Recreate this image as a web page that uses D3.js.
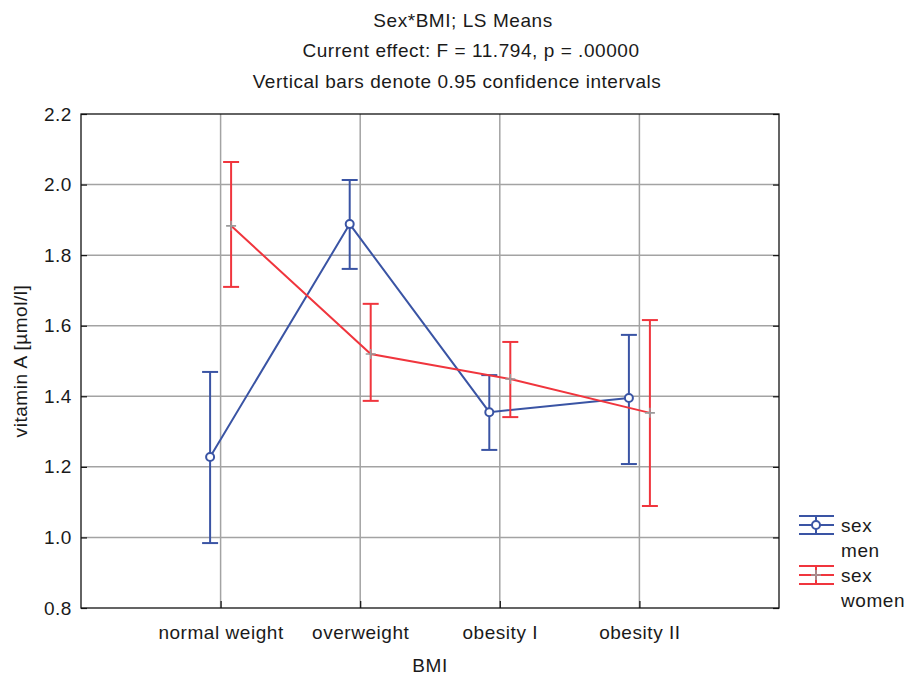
<!DOCTYPE html>
<html><head><meta charset="utf-8">
<script src="https://cdn.jsdelivr.net/npm/d3@7"></script>
<style>body{margin:0;background:#fff}svg{display:block}text{font-family:"Liberation Sans",Arial,sans-serif;fill:#1a1a1a;letter-spacing:0.55px}</style>
</head><body><svg id="c" width="906" height="675"></svg>
<script>
const categories = ["normal weight","overweight","obesity I","obesity II"];
const menMean  = [1.228, 1.888, 1.355, 1.395];
const menLow   = [0.984, 1.761, 1.248, 1.208];
const menHigh  = [1.469, 2.013, 1.460, 1.574];
const womenMean = [1.883, 1.520, 1.449, 1.353];
const womenLow  = [1.710, 1.387, 1.341, 1.089];
const womenHigh = [2.064, 1.662, 1.554, 1.616];
const yTicks = [0.8,1.0,1.2,1.4,1.6,1.8,2.0,2.2];
const titleLines = ["Sex*BMI; LS Means","Current effect: F = 11.794, p = .00000","Vertical bars denote 0.95 confidence intervals"];
const legendLabels = [["sex","men"],["sex","women"]];

const svg = d3.select("#c");
const L=81,R=779,T=114,B=608;
const BLUE="#3a54a4", RED="#f0353d", GRID="#a3a3a3";
const FS=19;
const x = d3.scaleLinear().domain([0,5]).range([L,R]);
const y = d3.scaleLinear().domain([0.8,2.2]).range([B,T]);
const off = 10.5;

// grid
svg.append("g").selectAll("line").data(yTicks.slice(1,-1)).join("line")
  .attr("x1",L).attr("x2",R).attr("y1",d=>y(d)).attr("y2",d=>y(d))
  .attr("stroke",GRID).attr("stroke-width",1.5);
svg.append("g").selectAll("line").data(categories).join("line")
  .attr("x1",(d,i)=>x(i+1)).attr("x2",(d,i)=>x(i+1)).attr("y1",T).attr("y2",B)
  .attr("stroke",GRID).attr("stroke-width",1.5);

// frame & inward ticks
svg.append("rect").attr("x",L).attr("y",T).attr("width",R-L).attr("height",B-T)
  .attr("fill","none").attr("stroke","#111").attr("stroke-width",1.3);
const yAxL = d3.axisLeft(y).tickValues(yTicks).tickSize(-6).tickPadding(9).tickFormat(d3.format(".1f"));
const gy = svg.append("g").attr("transform",`translate(${L},0)`).call(yAxL);
gy.select(".domain").remove();
gy.selectAll("text").attr("font-size",FS).attr("font-family",null);
const yAxR = d3.axisRight(y).tickValues(yTicks).tickSize(-6).tickFormat("");
const gyr = svg.append("g").attr("transform",`translate(${R},0)`).call(yAxR);
gyr.select(".domain").remove();
const xAx = d3.axisBottom(x).tickValues([1,2,3,4]).tickSize(-7).tickPadding(18).tickFormat(d=>categories[d-1]);
const gx = svg.append("g").attr("transform",`translate(0,${B})`).call(xAx);
gx.select(".domain").remove();
gx.selectAll("text").attr("font-size",FS).attr("font-family",null);
svg.selectAll(".tick line").attr("stroke","#111").attr("stroke-width",1.2);
svg.selectAll(".tick text").attr("fill","#1a1a1a");
svg.selectAll("g").attr("font-family",null);

// series
function series(mean,low,high,color,dx,marker){
  const g = svg.append("g");
  const line = d3.line().x((d,i)=>x(i+1)+dx).y(d=>y(d));
  g.selectAll(".eb").data(mean).join("line")
    .attr("x1",(d,i)=>x(i+1)+dx).attr("x2",(d,i)=>x(i+1)+dx)
    .attr("y1",(d,i)=>y(low[i])).attr("y2",(d,i)=>y(high[i]))
    .attr("stroke",color).attr("stroke-width",2);
  [low,high].forEach(arr=>{
    g.selectAll(null).data(arr).join("line")
      .attr("x1",(d,i)=>x(i+1)+dx-8).attr("x2",(d,i)=>x(i+1)+dx+8)
      .attr("y1",d=>y(d)).attr("y2",d=>y(d))
      .attr("stroke",color).attr("stroke-width",2);
  });
  g.append("path").datum(mean).attr("d",line).attr("fill","none")
    .attr("stroke",color).attr("stroke-width",2);
  if(marker==="circle"){
    g.selectAll("circle").data(mean).join("circle")
      .attr("cx",(d,i)=>x(i+1)+dx).attr("cy",d=>y(d)).attr("r",4)
      .attr("fill","#fff").attr("stroke",color).attr("stroke-width",2);
  } else {
    g.selectAll(".p").data(mean).join("path")
      .attr("d",(d,i)=>{const cx=x(i+1)+dx,cy=y(d);return `M${cx-5},${cy}H${cx+5}M${cx},${cy-5}V${cy+5}`;})
      .attr("stroke","#9a9a9a").attr("stroke-width",1.6);
  }
}
series(menMean,menLow,menHigh,BLUE,-off,"circle");
series(womenMean,womenLow,womenHigh,RED,off,"plus");

// titles
const titleX=[463,471,457], titleY=[27,57,88];
svg.append("g").selectAll("text").data(titleLines).join("text")
  .attr("x",(d,i)=>titleX[i]).attr("y",(d,i)=>titleY[i]).attr("text-anchor","middle")
  .attr("font-size",FS).text(d=>d);
svg.append("text").attr("x",430).attr("y",672).attr("text-anchor","middle").attr("font-size",FS).text("BMI");
svg.append("text").attr("transform","translate(27,361) rotate(-90)").attr("text-anchor","middle")
  .attr("font-size",FS).text("vitamin A [µmol/l]");

// legend
const lg = svg.append("g");
[[BLUE,"circle"],[RED,"plus"]].forEach(([c,m],k)=>{
  const cy = 525 + k*50, x0=799, x1=834, xc=816;
  const g = lg.append("g");
  [cy-9,cy,cy+9].forEach(yy=>g.append("line").attr("x1",x0).attr("x2",x1).attr("y1",yy).attr("y2",yy).attr("stroke",c).attr("stroke-width",2));
  g.append("line").attr("x1",xc).attr("x2",xc).attr("y1",cy-9).attr("y2",cy+9).attr("stroke",c).attr("stroke-width",2);
  if(m==="circle") g.append("circle").attr("cx",xc).attr("cy",cy).attr("r",4).attr("fill","#fff").attr("stroke",c).attr("stroke-width",2);
  else g.append("path").attr("d",`M${xc-5},${cy}H${xc+5}M${xc},${cy-5}V${cy+5}`).attr("stroke","#9a9a9a").attr("stroke-width",1.6);
  g.selectAll("text").data(legendLabels[k]).join("text")
    .attr("x",841).attr("y",(d,i)=>cy+7+i*25).attr("font-size",FS).text(d=>d);
});
</script></body></html>
